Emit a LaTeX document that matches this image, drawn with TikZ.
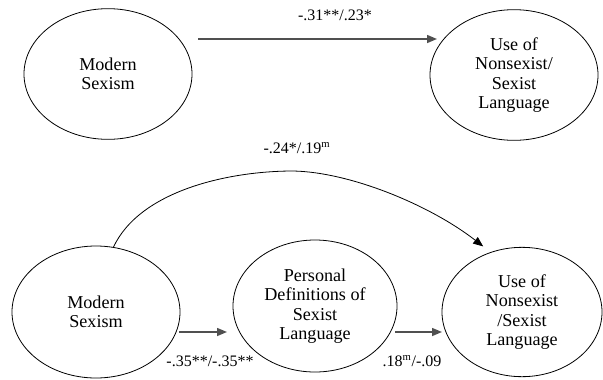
\documentclass[tikz,border=0pt]{standalone}
\usepackage{fontspec}
\setmainfont{Liberation Serif}
\usetikzlibrary{arrows.meta, shapes.geometric}
\definecolor{pathgray}{HTML}{505050}

\begin{document}
\begin{tikzpicture}[
    x=0.75pt, y=-0.75pt,
    latent/.style={draw, ellipse, line width=0.6pt, inner sep=0pt, outer sep=0pt, minimum width=126pt, minimum height=98pt, align=center, font=\fontsize{13.6}{14.5}\selectfont},
    patharrow/.style={-{Triangle[length=7.5pt, width=6pt]}, line width=1.1pt, color=pathgray},
    directarrow/.style={-{Triangle[length=7.5pt, width=6pt]}, line width=0.6pt, color=black},
    coef/.style={font=\fontsize{12}{14}\selectfont, inner sep=1pt},
]
\useasboundingbox (0,0) rectangle (603,379);

% Total effect
\node[latent] (ms1) at (108,74) {Modern\\Sexism};
\node[latent] (use1) at (514,75) {Use of\\Nonsexist/\\Sexist\\Language};
\draw[patharrow] ([shift={(6,-35)}]ms1.east) -- ([shift={(7,-36)}]use1.west);
\node[coef] (c1) at (335,15) {-.31**/.23*};

% Mediated model
\node[latent, minimum height=99pt] (ms2) at (96,312) {Modern\\Sexism};
\node[latent, minimum width=123pt, minimum height=99pt] (pdef) at (315,306) {Personal\\Definitions of\\Sexist\\Language};
\node[latent, minimum width=120pt, minimum height=97pt] (use2) at (522,312) {Use of\\Nonsexist\\/Sexist\\Language};

\draw[patharrow] ([shift={(-1,20)}]ms2.east) -- ([shift={(-6,26)}]pdef.west);
\draw[patharrow] ([shift={(-2,26)}]pdef.east) -- ([shift={(0,20)}]use2.west);
\draw[directarrow] (ms2.75) .. controls (140,190) and (230,171) .. (293,171)
    .. controls (350,172) and (430,205) .. ([shift={(-5,-7)}]use2.120);

% Coefficients
\node[coef] (c2) at (297,148) {-.24*/.19\textsuperscript{m}};
\node[coef] (c3) at (210,361) {-.35**/-.35**};
\node[coef] (c4) at (412,361) {.18\textsuperscript{m}/-.09};

\end{tikzpicture}
\end{document}
